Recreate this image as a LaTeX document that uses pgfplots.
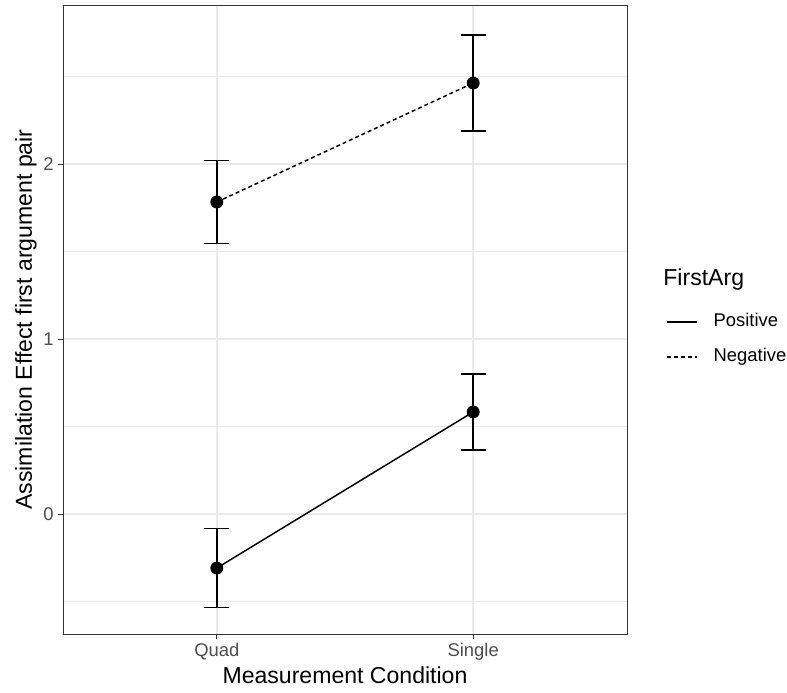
\documentclass[border=0pt]{standalone}
\usepackage{pgfplots}
\pgfplotsset{compat=1.18}
\usepackage{fontspec}
\setmainfont{Liberation Sans}
\definecolor{gridc}{HTML}{EBEBEB}
\definecolor{tickc}{HTML}{4D4D4D}
\definecolor{framec}{HTML}{333333}
\begin{document}
\begin{tikzpicture}
\begin{axis}[
  scale only axis, width=423pt, height=471.75pt,
  xmin=0.4, xmax=2.6, ymin=-0.686, ymax=2.909,
  xtick={1,2}, xticklabels={Quad,Single},
  ytick={0,1,2}, minor ytick={-0.5,0.5,1.5,2.5},
  grid=both,
  major grid style={color=gridc, line width=1.1pt},
  minor grid style={color=gridc, line width=0.6pt},
  axis line style={framec, line width=0.7pt},
  tick style={framec, line width=0.7pt},
  tick align=outside, major tick length=3.6pt, minor tick length=0pt,
  ticklabel style={font=\fontsize{13.8}{15}\selectfont, text=tickc},
  /pgf/number format/assume math mode=true,
  xlabel={Measurement Condition}, ylabel={Assimilation Effect first argument pair},
  label style={font=\fontsize{17.3}{19}\selectfont},
  xlabel style={yshift=2pt},
  ylabel style={yshift=-2pt},
  xtick pos=bottom, ytick pos=left,
  clip=false,
  legend style={at={(1.069,0.510)}, anchor=north west, draw=none, fill=none,
    font=\fontsize{13.8}{15}\selectfont, row sep=13.25pt, inner sep=0pt,
    nodes={inner xsep=0pt, inner ysep=0pt, text height=10pt, text depth=3pt},
    legend cell align=left},
  legend image code/.code={\draw[#1, line width=1.1pt] (0pt,0pt) -- (22.5pt,0pt); \path (34.5pt,0pt);},
]
\addplot[black, line width=1.1pt, mark=*, mark size=4.3pt,
  error bars/.cd, y dir=both, y explicit,
  error bar style={line width=1.1pt, black, solid},
  error mark options={rotate=90, mark size=9.4pt, line width=1.1pt, black, solid}]
  coordinates {(1,-0.309) +- (0,0.225) (2,0.583) +- (0,0.217)};
\addlegendentry{Positive}
\addplot[black, line width=1.1pt, dash pattern=on 3pt off 2.2pt, mark=*, mark size=4.3pt,
  mark options={solid},
  error bars/.cd, y dir=both, y explicit,
  error bar style={line width=1.1pt, black, solid},
  error mark options={rotate=90, mark size=9.4pt, line width=1.1pt, black, solid}]
  coordinates {(1,1.783) +- (0,0.237) (2,2.463) +- (0,0.274)};
\addlegendentry{Negative}
\node[anchor=west, font=\fontsize{17.3}{19}\selectfont, inner sep=0pt] at (rel axis cs:1.064,0.563) {FirstArg};
\end{axis}
\path[use as bounding box] ([xshift=-47.25pt,yshift=-43.5pt]current axis.south west) rectangle ([xshift=120pt,yshift=3.75pt]current axis.north east);
\end{tikzpicture}
\end{document}
